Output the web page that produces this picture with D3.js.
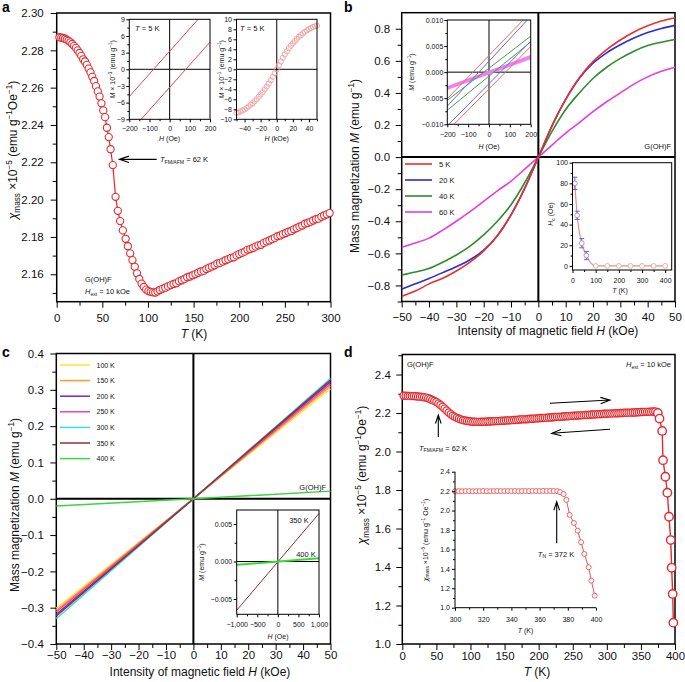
<!DOCTYPE html>
<html><head><meta charset="utf-8">
<script src="https://cdn.jsdelivr.net/npm/d3@7"></script>
<style>body{margin:0;background:#fff}svg{display:block}</style>
</head><body><svg id="c" width="685" height="682"></svg>
<script>
// ---------------- DATA ----------------
// panel a: chi vs T
const aT = [3,5,7,9,11,13,15,17,19,21,23,25,27,29,31,33,35,37,39,41,43,45,47,49,51,53,55,57,59,61.5,64.5,67,69.5,72.5,75.5,78,80.5,83,85.5,88,90.5,93,95.5,98,100.5,103,105.5,108,110.5,113,
116,119,122,125,128,131,134,137,140,143,146,149,152,155,158,161,164,167,170,173,176,179,182,185,188,191,194,197,200,203,206,209,212,215,218,221,224,227,230,233,236,239,242,245,248,251,254,257,260,263,266,269,272,275,278,281,284,287,290,293,296,299];
const aChi = [2.2870,2.2868,2.2866,2.2862,2.2857,2.2851,2.2843,2.2834,2.2824,2.2813,2.2800,2.2786,2.2770,2.2752,2.2740,2.2722,2.2702,2.2682,2.2658,2.2636,2.2608,2.2580,2.2552,2.2516,2.2478,2.2442,2.2385,2.2335,2.2270,2.2185,2.2015,2.1940,2.1885,2.1835,2.1790,2.1750,2.1712,2.1676,2.1640,2.1605,2.1575,2.1550,2.1532,2.1518,2.1510,2.1506,2.1503,2.1502,2.1508,2.1516,
2.1522,2.1528,2.1535,2.1542,2.1548,2.1552,2.1562,2.1568,2.1575,2.1584,2.1588,2.1595,2.1601,2.1608,2.1615,2.1618,2.1628,2.1635,2.1641,2.1648,2.1658,2.1661,2.1668,2.1675,2.1681,2.1688,2.1691,2.1701,2.1708,2.1715,2.1721,2.1731,2.1735,2.1741,2.1748,2.1755,2.1758,2.1768,2.1775,2.1781,2.1788,2.1795,2.1804,2.1808,2.1815,2.1821,2.1828,2.1832,2.1841,2.1848,2.1855,2.1861,2.1871,2.1875,2.1881,2.1888,2.1895,2.1898,2.1908,2.1915,2.1921,2.1928];
// inset a1: M (x1e-3) vs H (Oe), T = 5 K, two branches
const a1H = [-200, 200];
const a1Upper = [-4.9, 11.4];
const a1Lower = [-11.4, 4.9];
// inset a2: M (x1e-1) vs H (kOe)
const a2H = [-50,-47.5,-45,-42.5,-40,-37.5,-35,-32.5,-30,-27.5,-25,-22.5,-20,-17.5,-15,-12.5,-10,-7.5,-5,-2.5,0,2.5,5,7.5,10,12.5,15,17.5,20,22.5,25,27.5,30,32.5,35,37.5,40,42.5,45,47.5,50];
const a2M = [-8.7,-8.6,-8.45,-8.25,-8.0,-7.75,-7.45,-7.1,-6.8,-6.4,-6.0,-5.5,-5.05,-4.55,-4.0,-3.45,-2.85,-2.2,-1.5,-0.75,0,0.8,1.55,2.3,3.0,3.6,4.2,4.7,5.2,5.65,6.1,6.5,6.85,7.2,7.5,7.8,8.05,8.25,8.45,8.6,8.7];

// panel b: M-H loops at low T
const bH = [-50,-45,-40,-35,-30,-25,-20,-15,-10,-5,0,5,10,15,20,25,30,35,40,45,50];
const bSeries = ["5 K","20 K","40 K","60 K"];
const bM5  = [-0.867,-0.835,-0.790,-0.755,-0.710,-0.655,-0.585,-0.490,-0.360,-0.195,0,0.195,0.360,0.495,0.595,0.670,0.730,0.780,0.818,0.848,0.869];
const bM20 = [-0.823,-0.790,-0.756,-0.720,-0.683,-0.640,-0.580,-0.490,-0.360,-0.195,0,0.195,0.360,0.492,0.585,0.650,0.700,0.742,0.776,0.802,0.821];
const bM40 = [-0.735,-0.716,-0.694,-0.655,-0.610,-0.555,-0.485,-0.400,-0.297,-0.160,0,0.160,0.297,0.400,0.490,0.560,0.615,0.660,0.695,0.716,0.733];
const bM60 = [-0.562,-0.535,-0.505,-0.455,-0.400,-0.340,-0.276,-0.210,-0.150,-0.075,0,0.075,0.150,0.215,0.283,0.345,0.400,0.455,0.500,0.535,0.560];
// inset b1: low-field loops (two branches per T)
const b1H = [-200, 200];
const b1Red   = [[-0.0051, 0.0115], [-0.0113, 0.0049]];
const b1Blue  = [[-0.0065, 0.0107], [-0.0103, 0.0059]];
const b1Green = [[-0.0054, 0.0069], [-0.0073, 0.0058]];
const b1Mag   = [[-0.0030, 0.0030], [-0.0031, 0.0028]];
// inset b2: coercivity vs T
const b2T   = [10,20,40,60,100,150,200,250,300,350,400];
const b2Hc  = [80,49,22,10,0,0,0,0,0,0,0];
const b2Err = [6,4,4.5,4,0,0,0,0,0,0,0];

// panel c: M-H at high T
const cH = [-50, 0, 50];
const cSeries = ["100 K","150 K","200 K","250 K","300 K","350 K","400 K"];
const cM = [
  [-0.302, 0, 0.303],
  [-0.307, 0, 0.310],
  [-0.318, 0, 0.322],
  [-0.312, 0, 0.316],
  [-0.330, 0, 0.331],
  [-0.323, 0, 0.327],
  [-0.020, 0, 0.021]
];
// inset c1
const c1H = [-1000, 1000];
const c1M350 = [-0.0065, 0.0064];
const c1M400 = [-0.00044, 0.00045];

// panel d: chi vs T up to 400 K
const dT = [2,5,8,11,14,17,20,23,26,29,32,35,38,41,44,47,50,53,56,59,62,65,68,71,74,77,80,83,86,89,92,95,98,101,104,107,110,113,116,119,122,125,128,131,134,137,140,143,146,149,152,155,158,161,164,167,170,173,176,179,182,185,188,191,194,197,200,203,206,209,212,215,218,221,224,227,230,233,236,239,242,245,248,251,254,257,260,263,266,269,272,275,278,281,284,287,290,293,296,299,302,305,308,311,314,317,320,323,326,329,332,335,338,341,344,347,350,353,356,359,362,365,368,371];
const dChi = [2.290,2.290,2.289,2.289,2.288,2.288,2.287,2.286,2.285,2.284,2.282,2.280,2.277,2.273,2.268,2.263,2.257,2.250,2.242,2.233,2.223,2.213,2.203,2.194,2.186,2.180,2.175,2.170,2.166,2.163,2.161,2.159,2.157,2.156,2.155,2.155,2.154,2.154,2.155,2.155,2.155,2.156,2.156,2.157,2.157,2.158,2.158,2.159,2.160,2.160,2.161,2.162,2.162,2.163,2.164,2.164,2.165,2.166,2.167,2.167,2.168,2.169,2.170,2.170,2.171,2.172,2.173,2.174,2.174,2.175,2.176,2.177,2.177,2.178,2.179,2.180,2.180,2.181,2.182,2.183,2.183,2.184,2.185,2.186,2.186,2.187,2.188,2.188,2.189,2.190,2.190,2.191,2.192,2.192,2.193,2.194,2.194,2.195,2.196,2.196,2.197,2.197,2.198,2.198,2.199,2.199,2.200,2.200,2.201,2.201,2.202,2.202,2.203,2.203,2.204,2.204,2.205,2.205,2.206,2.206,2.207,2.207,2.208,2.208];
const dDropT   = [374.8,377.3,381.2,382.4,385.9,388.8,391.2,393.7,395.1,396.6,397.6];
const dDropChi = [2.200,2.171,2.107,1.955,1.869,1.786,1.661,1.540,1.396,1.260,1.111];
// inset d1
const d1T   = [300,302.5,305,307.5,310,312.5,315,317.5,320,322.5,325,327.5,330,332.5,335,337.5,340,342.5,345,347.5,350,352.5,355,357.5,360,362.5,365,367.5,370,372.5,374.5,377,379,381.3,384.3,387,389.4,391.7,394.8,396.7,399.1];
const d1Chi = [2.199,2.200,2.199,2.200,2.200,2.199,2.200,2.200,2.201,2.200,2.200,2.200,2.201,2.200,2.200,2.201,2.200,2.201,2.200,2.201,2.201,2.200,2.201,2.201,2.201,2.202,2.201,2.202,2.201,2.200,2.190,2.170,2.110,1.955,1.872,1.793,1.674,1.553,1.416,1.278,1.124];

// tick values
const aXTicks = [0,50,100,150,200,250,300], aYTicks = [2.16,2.18,2.20,2.22,2.24,2.26,2.28,2.30];
const a1XTicks = [-200,-100,0,100,200], a1YTicks = [-9,-6,-3,0,3,6,9];
const a2XTicks = [-40,-20,0,20,40], a2YTicks = [-10,-8,-6,-4,-2,0,2,4,6,8,10];
const bXTicks = [-50,-40,-30,-20,-10,0,10,20,30,40,50], bYTicks = [-0.8,-0.6,-0.4,-0.2,0,0.2,0.4,0.6,0.8];
const b1XTicks = [-200,-100,0,100,200], b1YTicks = [-0.01,-0.005,0,0.005,0.01];
const b2XTicks = [0,100,200,300,400], b2YTicks = [0,20,40,60,80,100];
const cYTicks = [-0.4,-0.3,-0.2,-0.1,0,0.1,0.2,0.3,0.4];
const c1XTicks = [-1000,-500,0,500,1000], c1YTicks = [-0.005,0,0.005];
const dXTicks = [0,50,100,150,200,250,300,350,400], dYTicks = [1.0,1.2,1.4,1.6,1.8,2.0,2.2,2.4];
const d1XTicks = [300,320,340,360,380,400], d1YTicks = [1.0,1.2,1.4,1.6,1.8,2.0,2.2,2.4];

// ---------------- HELPERS ----------------
const FONT = '"Liberation Sans", Arial, Helvetica, sans-serif';
const svg = d3.select('#c').attr('font-family', FONT);
const RED = '#e8282c';
const IFS = 7;    // inset font size
const AFS = 7.5;  // annotation font size
function mids(ticks){ const r=[]; for(let i=0;i<ticks.length-1;i++) r.push((ticks[i]+ticks[i+1])/2); return r; }

function axes(g, x, y, o) {
  const [left, right] = x.range(), [bottom, top] = y.range();
  const tl=o.tl, tm=o.tm, fs=o.fs, lw=o.lw;
  const style = s => { s.select('.domain').remove();
    s.attr('font-family', FONT).attr('font-size', fs);
    s.selectAll('line').attr('stroke','#000').attr('stroke-width', o.tw||1);
    s.selectAll('text').attr('fill','#111'); };
  let xm = o.xMinor || [], ym = o.yMinor || [];
  g.append('g').attr('transform',`translate(0,${bottom})`).call(d3.axisBottom(x).tickValues(xm).tickSize(tm).tickFormat('')).call(style);
  g.append('g').attr('transform',`translate(0,${bottom})`).call(d3.axisBottom(x).tickValues(o.xTicks).tickSize(tl).tickPadding(o.xpad).tickFormat(o.xFmt)).call(style);
  g.append('g').attr('transform',`translate(${left},0)`).call(d3.axisLeft(y).tickValues(ym).tickSize(tm).tickFormat('')).call(style);
  g.append('g').attr('transform',`translate(${left},0)`).call(d3.axisLeft(y).tickValues(o.yTicks).tickSize(tl).tickPadding(o.ypad).tickFormat(o.yFmt)).call(style);
  if (o.box === false) {
    g.append('path').attr('d',`M${left},${top}V${bottom}H${right}`).attr('fill','none').attr('stroke','#000').attr('stroke-width',lw);
  } else {
    g.append('rect').attr('x',left).attr('y',top).attr('width',right-left).attr('height',bottom-top)
      .attr('fill','none').attr('stroke','#000').attr('stroke-width',lw);
  }
}
function rich(t, parts, fs) {
  let off = 0;
  parts.forEach(([s,k]) => {
    const target = k==='sup' ? -0.38*fs : k==='sub' ? 0.25*fs : 0;
    const ts = t.append('tspan').text(s).attr('dy', target-off);
    off = target;
    if (k==='sup' || k==='sub') ts.attr('font-size', fs*0.68);
    if (k==='i') ts.attr('font-style','italic');
  });
  return t;
}
function label(x, y, parts, fs, opts={}) {
  const t = svg.append('text').attr('font-size', fs).attr('fill','#111')
    .attr('text-anchor', opts.anchor || 'start');
  if (opts.rot) t.attr('transform', `translate(${x},${y}) rotate(-90)`);
  else t.attr('x', x).attr('y', y);
  return rich(t, parts, fs);
}
function arrow(x1,y1,x2,y2, head, w) {
  const a = Math.atan2(y2-y1, x2-x1), h = head || 9, sp = 0.32;
  const p = `M${x1},${y1}L${x2},${y2}M${x2-h*Math.cos(a-sp)},${y2-h*Math.sin(a-sp)}L${x2},${y2}L${x2-h*Math.cos(a+sp)},${y2-h*Math.sin(a+sp)}`;
  svg.append('path').attr('d', p).attr('fill','none').attr('stroke','#000').attr('stroke-width', w||1.1);
}
let clipId = 0;
function clip(x, y) {
  const id = 'cl' + (clipId++);
  svg.append('clipPath').attr('id', id).append('rect')
    .attr('x', x.range()[0]).attr('y', y.range()[1])
    .attr('width', x.range()[1]-x.range()[0]).attr('height', y.range()[0]-y.range()[1]);
  return `url(#${id})`;
}
const chiTitle = [["χ",'i'],["mass",'sub'],[" ×10",''],["−5",'sup'],[" (emu g",''],["−1",'sup'],["Oe",''],["−1",'sup'],[")",'']];

// ---------------- PANEL A ----------------
{
  const x = d3.scaleLinear().domain([0,300]).range([56.7,330.5]);
  const y = d3.scaleLinear().domain([2.1453,2.30]).range([301.7,13]);
  const g = svg.append('g');
  axes(g, x, y, {xTicks:aXTicks, xMinor:mids(aXTicks), yTicks:aYTicks, yMinor:[2.15,...mids(aYTicks)],
    xFmt:d3.format('d'), yFmt:d3.format('.2f'), tl:6, tm:4, fs:11.5, lw:1.5, xpad:6, ypad:7});
  const pts = aT.map((t,i)=>[t,aChi[i]]);
  g.append('path').attr('d', d3.line().x(d=>x(d[0])).y(d=>y(d[1]))(pts)).attr('fill','none').attr('stroke',RED).attr('stroke-width',1.2);
  g.selectAll('circle.a').data(pts).join('circle').attr('cx',d=>x(d[0])).attr('cy',d=>y(d[1])).attr('r',3.6)
    .attr('fill','#fff').attr('stroke',RED).attr('stroke-width',1.1);
  label(17, 150, chiTitle, 12, {rot:true, anchor:'middle'});
  label(194, 338, [["T",'i'],[" (K)",'']], 12, {anchor:'middle'});
  svg.append('text').attr('x',2).attr('y',12).attr('font-size',14).attr('font-weight','bold').text('a');
  arrow(156.7,159.3,119.5,159.3,10,1.2);
  label(160, 162, [["T",'i'],["FM/AFM",'sub'],[" = 62 K",'']], AFS);
  label(85, 282, [["G(OH)F",'']], AFS);
  label(85, 294, [["H",'i'],["ext",'sub'],[" = 10 kOe",'']], AFS);

  // inset a1
  const x1 = d3.scaleLinear().domain([-200,200]).range([129.3,210]);
  const y1 = d3.scaleLinear().domain([-9,9]).range([119.3,19.3]);
  const g1 = svg.append('g');
  g1.append('rect').attr('x',129.3).attr('y',19.3).attr('width',80.7).attr('height',100).attr('fill','#fff');
  const cp1 = clip(x1,y1);
  g1.append('line').attr('x1',x1(0)).attr('x2',x1(0)).attr('y1',19.3).attr('y2',119.3).attr('stroke','#000').attr('stroke-width',1);
  g1.append('line').attr('x1',129.3).attr('x2',210).attr('y1',y1(0)).attr('y2',y1(0)).attr('stroke','#000').attr('stroke-width',1);
  [a1Upper, a1Lower].forEach(br => {
    g1.append('path').attr('clip-path',cp1).attr('d', d3.line()(a1H.map((h,i)=>[x1(h), y1(br[i])])))
      .attr('stroke','#ee4444').attr('stroke-width',1).attr('fill','none');
  });
  axes(g1, x1, y1, {xTicks:a1XTicks, xMinor:mids(a1XTicks), yTicks:a1YTicks, yMinor:mids(a1YTicks),
    xFmt:d3.format('d'), yFmt:d3.format('d'), tl:3, tm:2, fs:IFS, lw:1, xpad:4, ypad:1.5});
  label(135, 31, [["T",'i'],[" = 5 K",'']], AFS);
  label(115, 69.3, [["M",'i'],[" × 10",''],["−3",'sup'],[" (emu g",''],["−1",'sup'],[")",'']], IFS, {rot:true, anchor:'middle'});
  label(169.6, 141, [["H",'i'],[" (Oe)",'']], IFS, {anchor:'middle'});

  // inset a2
  const x2 = d3.scaleLinear().domain([-50,50]).range([236.5,317]);
  const y2 = d3.scaleLinear().domain([-10,10]).range([119.3,19.3]);
  const g2 = svg.append('g');
  g2.append('rect').attr('x',236.5).attr('y',19.3).attr('width',80.5).attr('height',100).attr('fill','#fff');
  g2.append('line').attr('x1',x2(0)).attr('x2',x2(0)).attr('y1',19.3).attr('y2',119.3).attr('stroke','#000').attr('stroke-width',1);
  g2.append('line').attr('x1',236.5).attr('x2',317).attr('y1',y2(0)).attr('y2',y2(0)).attr('stroke','#000').attr('stroke-width',1);
  g2.selectAll('circle').data(a2H.map((h,i)=>[h,a2M[i]])).join('circle')
    .attr('cx',d=>x2(d[0])).attr('cy',d=>y2(d[1])).attr('r',2.6).attr('fill','none').attr('stroke','#f3a0a0').attr('stroke-width',0.9);
  axes(g2, x2, y2, {xTicks:a2XTicks, xMinor:[-50,-30,-10,10,30,50], yTicks:a2YTicks, yMinor:[],
    xFmt:d3.format('d'), yFmt:d3.format('d'), tl:3, tm:2, fs:IFS, lw:1, xpad:4, ypad:1.5});
  label(240, 31, [["T",'i'],[" = 5 K",'']], AFS);
  label(224, 69.3, [["M",'i'],[" × 10",''],["−1",'sup'],[" (emu g",''],["−1",'sup'],[")",'']], IFS, {rot:true, anchor:'middle'});
  label(276.7, 141, [["H",'i'],[" (kOe)",'']], IFS, {anchor:'middle'});
}

// ---------------- PANEL B ----------------
{
  const x = d3.scaleLinear().domain([-50,50]).range([401.7,675]);
  const y = d3.scaleLinear().domain([-0.9,0.9]).range([301.5,12.7]);
  const g = svg.append('g');
  axes(g, x, y, {xTicks:bXTicks, xMinor:mids(bXTicks), yTicks:bYTicks, yMinor:[-0.9,...mids(bYTicks)],
    xFmt:d3.format('d'), yFmt:d3.format('.1f'), tl:6, tm:4, fs:11.5, lw:1.5, xpad:5, ypad:5.5});
  g.append('line').attr('x1',x(0)).attr('x2',x(0)).attr('y1',12.7).attr('y2',301.5).attr('stroke','#000').attr('stroke-width',2);
  g.append('line').attr('x1',401.7).attr('x2',675).attr('y1',y(0)).attr('y2',y(0)).attr('stroke','#000').attr('stroke-width',2);
  const cols = ['#e8302a','#2a2ad6','#2e8b2e','#e23ee2'];
  const Ms = [bM5,bM20,bM40,bM60];
  const ln = d3.line().curve(d3.curveMonotoneX);
  [3,2,1,0].forEach(k => {
    g.append('path').attr('d', ln(bH.map((h,i)=>[x(h), y(Ms[k][i])]))).attr('fill','none').attr('stroke',cols[k]).attr('stroke-width',1.6);
  });
  bSeries.forEach((s,i) => {
    const yy = 164 + i*16;
    g.append('line').attr('x1',405).attr('x2',432).attr('y1',yy).attr('y2',yy).attr('stroke',cols[i]).attr('stroke-width',1.6);
    g.append('text').attr('x',439).attr('y',yy+2.7).attr('font-size',AFS).attr('fill','#111').text(s);
  });
  label(671, 149, [["G(OH)F",'']], AFS, {anchor:'end'});
  label(359, 166, [["Mass magnetization ",''],["M",'i'],[" (emu g",''],["−1",'sup'],[")",'']], 12, {rot:true, anchor:'middle'});
  label(548, 335, [["Intensity of magnetic field ",''],["H",'i'],[" (kOe)",'']], 12, {anchor:'middle'});
  svg.append('text').attr('x',344).attr('y',12).attr('font-size',14).attr('font-weight','bold').text('b');

  // inset b1
  const x1 = d3.scaleLinear().domain([-200,200]).range([447.3,530.7]);
  const y1 = d3.scaleLinear().domain([-0.010,0.010]).range([124.3,20]);
  const g1 = svg.append('g');
  g1.append('rect').attr('x',447.3).attr('y',20).attr('width',83.4).attr('height',104.3).attr('fill','#fff');
  const cp = clip(x1,y1);
  g1.append('line').attr('x1',x1(0)).attr('x2',x1(0)).attr('y1',20).attr('y2',124.3).attr('stroke','#000').attr('stroke-width',1);
  g1.append('line').attr('x1',447.3).attr('x2',530.7).attr('y1',y1(0)).attr('y2',y1(0)).attr('stroke','#000').attr('stroke-width',1);
  const sets = [[b1Mag,'#f27ff2',3],[b1Green,'#4a9e4a',1],[b1Blue,'#6b6be6',1],[b1Red,'#f06a55',1]];
  sets.forEach(([br,c,w]) => br.forEach(vals => {
    g1.append('path').attr('clip-path',cp).attr('d', d3.line()(b1H.map((h,i)=>[x1(h), y1(vals[i])])))
      .attr('stroke',c).attr('stroke-width',w).attr('fill','none');
  }));
  axes(g1, x1, y1, {xTicks:b1XTicks, xMinor:mids(b1XTicks), yTicks:b1YTicks, yMinor:mids(b1YTicks),
    xFmt:d3.format('d'), yFmt:d3.format('.3f'), tl:3, tm:2, fs:IFS, lw:1, xpad:5, ypad:1});
  label(414, 72, [["M",'i'],[" (emu g",''],["−1",'sup'],[")",'']], IFS, {rot:true, anchor:'middle'});
  label(489, 148.5, [["H",'i'],[" (Oe)",'']], IFS, {anchor:'middle'});

  // inset b2
  const x2 = d3.scaleLinear().domain([0,428]).range([572.5,671.7]);
  const y2 = d3.scaleLinear().domain([-4,100]).range([270,162.7]);
  const g2 = svg.append('g');
  g2.append('rect').attr('x',572.5).attr('y',162.7).attr('width',99.2).attr('height',107.3).attr('fill','#fff');
  const bp = b2T.map((t,i)=>[t,b2Hc[i],b2Err[i]]);
  g2.append('path').attr('d', d3.line().curve(d3.curveMonotoneX)(bp.map(d=>[x2(d[0]),y2(d[1])]))).attr('fill','none').attr('stroke','#f08a8a').attr('stroke-width',1.2);
  bp.filter(d=>d[2]>0).forEach(d => {
    const cx=x2(d[0]), t=y2(d[1]+d[2]), b=y2(d[1]-d[2]);
    g2.append('path').attr('d',`M${cx},${t}V${b}M${cx-2.5},${t}H${cx+2.5}M${cx-2.5},${b}H${cx+2.5}`).attr('stroke','#6464dc').attr('stroke-width',1).attr('fill','none');
  });
  g2.selectAll('circle').data(bp).join('circle').attr('cx',d=>x2(d[0])).attr('cy',d=>y2(d[1])).attr('r',2.4)
    .attr('fill','#fff').attr('stroke',d=>d[2]>0?'#a088d8':'#f2a0a0').attr('stroke-width',0.9);
  axes(g2, x2, y2, {xTicks:b2XTicks, xMinor:[50,150,250,350], yTicks:b2YTicks, yMinor:[10,30,50,70,90],
    xFmt:d3.format('d'), yFmt:d3.format('d'), tl:3, tm:2, fs:IFS, lw:1, xpad:5, ypad:1.5});
  label(553, 214, [["H",'i'],["c",'sub'],[" (Oe)",'']], IFS, {rot:true, anchor:'middle'});
  label(620, 292.5, [["T",'i'],[" (K)",'']], IFS, {anchor:'middle'});
}

// ---------------- PANEL C ----------------
{
  const x = d3.scaleLinear().domain([-50,50]).range([56.3,330.5]);
  const y = d3.scaleLinear().domain([-0.4,0.4]).range([644,353.5]);
  const g = svg.append('g');
  axes(g, x, y, {xTicks:bXTicks, xMinor:mids(bXTicks), yTicks:cYTicks, yMinor:mids(cYTicks),
    xFmt:d3.format('d'), yFmt:d3.format('.1f'), tl:6, tm:4, fs:11.5, lw:1.5, xpad:1, ypad:6.5});
  g.append('line').attr('x1',x(0)).attr('x2',x(0)).attr('y1',353.5).attr('y2',644).attr('stroke','#000').attr('stroke-width',2);
  g.append('line').attr('x1',56.3).attr('x2',330.5).attr('y1',y(0)).attr('y2',y(0)).attr('stroke','#000').attr('stroke-width',2);
  const cols = ['#f7e637','#ff9a2e','#7a24c4','#ee45a0','#3adfe0','#8c3232','#3ad63a'];
  cM.forEach((vals,k) => {
    g.append('path').attr('d', d3.line()(cH.map((h,i)=>[x(h), y(vals[i])]))).attr('fill','none').attr('stroke',cols[k]).attr('stroke-width',1.5);
  });
  cSeries.forEach((s,i) => {
    const yy = 365 + i*15.6;
    g.append('line').attr('x1',60).attr('x2',90).attr('y1',yy).attr('y2',yy).attr('stroke',cols[i]).attr('stroke-width',1.5);
    g.append('text').attr('x',96.5).attr('y',yy+2.5).attr('font-size',7).attr('fill','#111').text(s);
  });
  label(326, 489.5, [["G(OH)F",'']], AFS, {anchor:'end'});
  label(19, 505, [["Mass magnetization ",''],["M",'i'],[" (emu g",''],["−1",'sup'],[")",'']], 12, {rot:true, anchor:'middle'});
  label(200, 675.5, [["Intensity of magnetic field ",''],["H",'i'],[" (kOe)",'']], 12, {anchor:'middle'});
  svg.append('text').attr('x',2).attr('y',357).attr('font-size',14).attr('font-weight','bold').text('c');

  // inset c1
  const x1 = d3.scaleLinear().domain([-1000,1000]).range([236.7,319]);
  const y1 = d3.scaleLinear().domain([-0.00704,0.00687]).range([614.3,510]);
  const g1 = svg.append('g');
  g1.append('rect').attr('x',236.7).attr('y',510).attr('width',82.3).attr('height',104.3).attr('fill','#fff');
  g1.append('line').attr('x1',x1(0)).attr('x2',x1(0)).attr('y1',510).attr('y2',614.3).attr('stroke','#000').attr('stroke-width',1);
  g1.append('line').attr('x1',236.7).attr('x2',319).attr('y1',y1(0)).attr('y2',y1(0)).attr('stroke','#000').attr('stroke-width',1);
  g1.append('path').attr('d', d3.line()(c1H.map((h,i)=>[x1(h), y1(c1M350[i])]))).attr('stroke','#8c3232').attr('stroke-width',1).attr('fill','none');
  g1.append('path').attr('d', d3.line()(c1H.map((h,i)=>[x1(h), y1(c1M400[i])]))).attr('stroke','#3ad63a').attr('stroke-width',2).attr('fill','none');
  axes(g1, x1, y1, {xTicks:c1XTicks, xMinor:[-750,-250,250,750], yTicks:c1YTicks, yMinor:[-0.0025,0.0025],
    xFmt:d3.format(','), yFmt:d3.format('.3f'), tl:3, tm:2, fs:IFS, lw:1, xpad:5, ypad:1.5});
  label(299, 522.5, [["350 K",'']], AFS, {anchor:'middle'});
  label(306, 556.5, [["400 K",'']], AFS, {anchor:'middle'});
  label(204, 562, [["M",'i'],[" (emu g",''],["−1",'sup'],[")",'']], IFS, {rot:true, anchor:'middle'});
  label(278, 638.5, [["H",'i'],[" (Oe)",'']], IFS, {anchor:'middle'});
}

// ---------------- PANEL D ----------------
{
  const x = d3.scaleLinear().domain([0,400]).range([402.3,675]);
  const y = d3.scaleLinear().domain([1.0,2.504]).range([644,354.5]);
  const g = svg.append('g');
  const cp = clip(x,y);
  axes(g, x, y, {xTicks:dXTicks, xMinor:mids(dXTicks), yTicks:dYTicks, yMinor:[1.1,1.3,1.5,1.7,1.9,2.1,2.3,2.5],
    xFmt:d3.format('d'), yFmt:d3.format('.1f'), tl:6, tm:4, fs:11.5, lw:1.5, xpad:1.5, ypad:5.5});
  const pts = dT.map((t,i)=>[t,dChi[i]]);
  const drop = dDropT.map((t,i)=>[t,dDropChi[i]]);
  g.append('path').attr('clip-path',cp).attr('d', d3.line().x(d=>x(d[0])).y(d=>y(d[1]))([...pts, ...drop])).attr('fill','none').attr('stroke',RED).attr('stroke-width',1.4);
  g.selectAll('circle.m').data(pts).join('circle').attr('cx',d=>x(d[0])).attr('cy',d=>y(d[1])).attr('r',3.6)
    .attr('fill','#fff').attr('stroke',RED).attr('stroke-width',1.2);
  g.selectAll('circle.dr').data(drop).join('circle').attr('cx',d=>x(d[0])).attr('cy',d=>y(d[1])).attr('r',4.2)
    .attr('fill','#fff').attr('stroke',RED).attr('stroke-width',1.4);
  label(366, 475, chiTitle, 12, {rot:true, anchor:'middle'});
  label(537, 676, [["T",'i'],[" (K)",'']], 12, {anchor:'middle'});
  svg.append('text').attr('x',344).attr('y',357).attr('font-size',14).attr('font-weight','bold').text('d');
  label(407, 367, [["G(OH)F",'']], AFS);
  label(671, 367, [["H",'i'],["ext",'sub'],[" = 10 kOe",'']], AFS, {anchor:'end'});
  arrow(550,403.3,610,400,10,1.1);
  arrow(610,429.3,551.7,433.3,10,1.1);
  arrow(438.3,437,438.3,415,9,1.1);
  label(419, 450.5, [["T",'i'],["FM/AFM",'sub'],[" = 62 K",'']], AFS);

  // inset d1
  const x1 = d3.scaleLinear().domain([300,400]).range([455,596]);
  const y1 = d3.scaleLinear().domain([1.0,2.4]).range([607.7,471.7]);
  const g1 = svg.append('g');
  const ip = d1T.map((t,i)=>[t,d1Chi[i]]);
  g1.append('path').attr('d', d3.line().x(d=>x1(d[0])).y(d=>y1(d[1]))(ip)).attr('fill','none').attr('stroke','#ee5555').attr('stroke-width',1);
  g1.selectAll('circle').data(ip).join('circle').attr('cx',d=>x1(d[0])).attr('cy',d=>y1(d[1])).attr('r',2.5)
    .attr('fill','#fff').attr('stroke','#ee5555').attr('stroke-width',0.9);
  axes(g1, x1, y1, {xTicks:d1XTicks, xMinor:mids(d1XTicks), yTicks:d1YTicks, yMinor:mids(d1YTicks),
    xFmt:d3.format('d'), yFmt:d3.format('.1f'), tl:3, tm:2, fs:IFS, lw:1, xpad:6, ypad:2, box:false});
  arrow(556.7,543.3,556.7,501.7,9,1.1);
  label(556, 556.5, [["T",'i'],["N",'sub'],[" = 372 K",'']], AFS, {anchor:'middle'});
  label(427.5, 540, [["χ",'i'],["mass",'sub'],[" ×10",''],["−5",'sup'],[" (emu g",''],["−1",'sup'],[" Oe",''],["−1",'sup'],[")",'']], IFS, {rot:true, anchor:'middle'});
  label(525.5, 632.5, [["T",'i'],[" (K)",'']], IFS, {anchor:'middle'});
}
</script></body></html>
